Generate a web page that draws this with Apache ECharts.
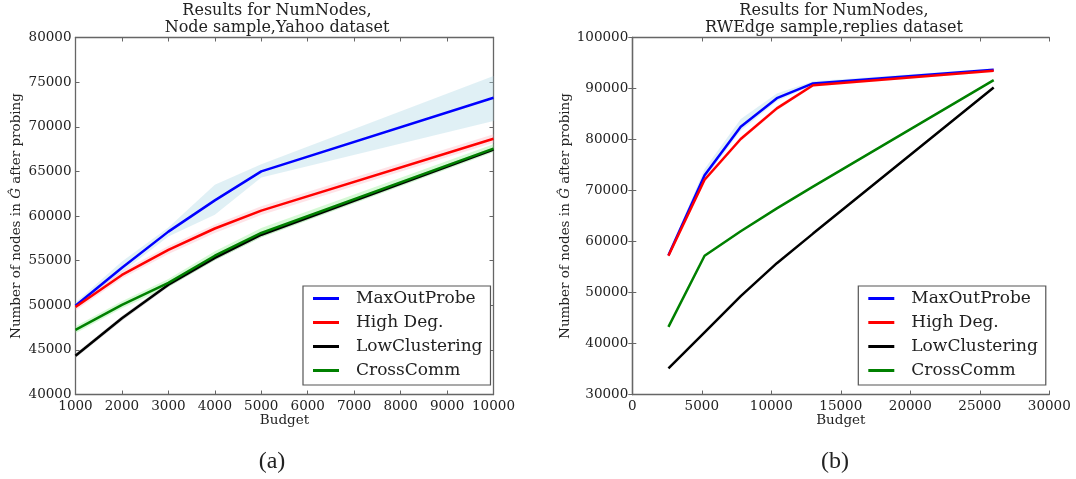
<!DOCTYPE html>
<html>
<head>
<meta charset="utf-8">
<script src="https://cdn.jsdelivr.net/npm/echarts@6/dist/echarts.min.js"></script>
<style>
html,body{margin:0;padding:0;background:#fff;}
#c{width:1076px;height:479px;}
</style>
</head>
<body>
<div id="c"></div>
<script>
// ---------- Data ----------
var seriesNames = ['MaxOutProbe', 'High Deg.', 'LowClustering', 'CrossComm'];
var seriesColors = ['#0000ff', '#ff0000', '#000000', '#008000'];
var bandColors = ['rgba(173,216,230,0.38)', 'rgba(255,182,193,0.38)', 'rgba(128,128,128,0.3)', 'rgba(144,238,144,0.38)'];

// (a) Node sample, Yahoo dataset
var budgetA = [1000, 2000, 3000, 4000, 5000, 10000];
var maxOutA = [49950, 54200, 58250, 61750, 65000, 73250];
var highDegA = [49800, 53400, 56200, 58600, 60600, 68650];
var lowClusA = [44350, 48550, 52300, 55300, 57900, 67450];
var crossA = [47250, 50050, 52500, 55550, 58100, 67550];
var maxOutA_lo = [49700, 53700, 57700, 60150, 64300, 70650];
var maxOutA_hi = [50300, 54900, 58700, 63500, 65800, 75700];
var highDegA_lo = [49400, 53000, 55750, 58100, 60100, 68200];
var highDegA_hi = [50200, 53850, 56650, 59050, 61100, 69150];
var lowClusA_lo = [44100, 48250, 52050, 55050, 57650, 67250];
var lowClusA_hi = [44600, 48800, 52550, 55550, 58150, 67700];
var crossA_lo = [46850, 49650, 52050, 55050, 57600, 67150];
var crossA_hi = [47650, 50450, 52950, 56050, 58650, 68050];

// (b) RWEdge sample, replies dataset
var budgetB = [2600, 5200, 7800, 10400, 13000, 26000];
var maxOutB = [57300, 73000, 82500, 88100, 91000, 93700];
var highDegB = [57200, 72100, 80100, 86100, 90650, 93500];
var lowClusB = [35100, 42200, 49300, 55750, 61550, 90200];
var crossB = [43250, 57200, 62000, 66500, 70750, 91650];
var maxOutB_lo = [56900, 72300, 81700, 87500, 90700, 93450];
var maxOutB_hi = [57700, 74200, 84000, 89000, 91400, 93950];
var highDegB_lo = [56900, 71700, 79700, 85700, 90350, 93250];
var highDegB_hi = [57500, 72500, 80500, 86500, 90950, 93750];

// Tick configuration
var xTicksA = {min: 1000, max: 10000, interval: 1000};
var yTicksA = {min: 40000, max: 80000, interval: 5000};
var xTicksB = {min: 0, max: 30000, interval: 5000};
var yTicksB = {min: 30000, max: 100000, interval: 10000};

var titleA = 'Results for NumNodes,\nNode sample,Yahoo dataset';
var titleB = 'Results for NumNodes,\nRWEdge sample,replies dataset';
var xName = 'Budget';
var yName = 'Number of nodes in {i|Ĝ} after probing';

// ---------- Build ----------
function pairs(xs, ys) { return xs.map(function (x, i) { return [x, ys[i]]; }); }

var SERIF = 'DejaVu Serif';
var frame = '#666';

function mkAxes(gridIndex, xt, yt, yGap) {
  var lblStyle = {fontFamily: SERIF, fontSize: 13.5, color: '#222'};
  var xa = [{
    type: 'value', gridIndex: gridIndex, position: 'bottom', min: xt.min, max: xt.max, interval: xt.interval,
    axisLine: {show: true, lineStyle: {color: frame, width: 1.3}},
    axisTick: {show: true, inside: true, length: 4, lineStyle: {color: frame}},
    axisLabel: Object.assign({margin: 5, formatter: function (v) { return String(v); }}, lblStyle),
    splitLine: {show: false},
    name: xName, nameLocation: 'middle', nameGap: 19, nameMoveOverlap: false,
    nameTextStyle: {fontFamily: SERIF, fontSize: 13.5, color: '#222'}
  }, {
    type: 'value', gridIndex: gridIndex, position: 'top', min: xt.min, max: xt.max, interval: xt.interval,
    axisLine: {show: true, lineStyle: {color: frame, width: 1.3}},
    axisTick: {show: true, inside: true, length: 4, lineStyle: {color: frame}},
    axisLabel: {show: false}, splitLine: {show: false}
  }];
  var ya = [{
    type: 'value', gridIndex: gridIndex, position: 'left', min: yt.min, max: yt.max, interval: yt.interval,
    axisLine: {show: true, lineStyle: {color: frame, width: 1.3}},
    axisTick: {show: true, inside: true, length: 4, lineStyle: {color: frame}},
    axisLabel: Object.assign({margin: 4, formatter: function (v) { return String(v); }}, lblStyle),
    splitLine: {show: false},
    name: yName, nameLocation: 'middle', nameGap: yGap, nameRotate: 90,
    nameTextStyle: {fontFamily: SERIF, fontSize: 13.5, color: '#222',
      rich: {i: {fontFamily: SERIF, fontStyle: 'italic', fontSize: 13.5, color: '#222'}}}
  }, {
    type: 'value', gridIndex: gridIndex, position: 'right', min: yt.min, max: yt.max, interval: yt.interval,
    axisLine: {show: true, lineStyle: {color: frame, width: 1.3}},
    axisTick: {show: true, inside: true, length: 4, lineStyle: {color: frame}},
    axisLabel: {show: false}, splitLine: {show: false}
  }];
  return {x: xa, y: ya};
}

var axA = mkAxes(0, xTicksA, yTicksA, 52);
var axB = mkAxes(1, xTicksB, yTicksB, 57);
var xAxes = axA.x.concat(axB.x); // indices 0,1 (A) 2,3 (B)
var yAxes = axA.y.concat(axB.y);

var series = [];
function addBand(xi, yi, xs, lo, hi, color) {
  var rows = xs.map(function (x, i) { return [x, lo[i], hi[i]]; });
  series.push({
    type: 'custom', xAxisIndex: xi, yAxisIndex: yi, silent: true, z: 1,
    data: rows,
    encode: {x: 0, y: [1, 2]},
    renderItem: function (params, api) {
      if (params.dataIndex !== 0) return null;
      var top = [], bot = [];
      for (var i = 0; i < rows.length; i++) {
        top.push(api.coord([rows[i][0], rows[i][2]]));
        bot.unshift(api.coord([rows[i][0], rows[i][1]]));
      }
      return {
        type: 'polygon',
        shape: {points: top.concat(bot)},
        style: {fill: color, stroke: null}
      };
    }
  });
}
function addLine(xi, yi, xs, ys, idx, z) {
  series.push({
    type: 'line', name: seriesNames[idx], xAxisIndex: xi, yAxisIndex: yi,
    data: pairs(xs, ys), showSymbol: false, symbol: 'none',
    color: seriesColors[idx], lineStyle: {color: seriesColors[idx], width: 2.5}, z: z
  });
}

// panel A
addBand(0, 0, budgetA, maxOutA_lo, maxOutA_hi, bandColors[0]);
addBand(0, 0, budgetA, highDegA_lo, highDegA_hi, bandColors[1]);
addBand(0, 0, budgetA, lowClusA_lo, lowClusA_hi, bandColors[2]);
addBand(0, 0, budgetA, crossA_lo, crossA_hi, bandColors[3]);
addLine(0, 0, budgetA, maxOutA, 0, 5);
addLine(0, 0, budgetA, highDegA, 1, 5);
addLine(0, 0, budgetA, lowClusA, 2, 5);
addLine(0, 0, budgetA, crossA, 3, 6);

// panel B
addBand(2, 2, budgetB, maxOutB_lo, maxOutB_hi, bandColors[0]);
addBand(2, 2, budgetB, highDegB_lo, highDegB_hi, bandColors[1]);
addLine(2, 2, budgetB, maxOutB, 0, 5);
addLine(2, 2, budgetB, highDegB, 1, 6);
addLine(2, 2, budgetB, lowClusB, 2, 5);
addLine(2, 2, budgetB, crossB, 3, 5);

function mkLegend(left) {
  return {
    left: left, top: 286, orient: 'vertical', data: seriesNames,
    icon: 'rect', itemWidth: 26, itemHeight: 3, itemGap: 7,
    padding: [4, 8, 6, 10],
    borderColor: '#555', borderWidth: 1.2, backgroundColor: '#fff',
    selectedMode: false,
    textStyle: {fontFamily: SERIF, fontSize: 17, color: '#222', lineHeight: 17, padding: [0, 0, 0, 12]}
  };
}

var option = {
  backgroundColor: '#fff',
  animation: false,
  grid: [
    {left: 75.5, top: 37.5, width: 418, height: 357, show: false},
    {left: 632.3, top: 37.5, width: 417, height: 357, show: false}
  ],
  title: [
    {text: titleA, left: 277, top: 2.5, textAlign: 'center', padding: 0,
      textStyle: {fontFamily: SERIF, fontSize: 16, fontWeight: 'normal', color: '#222', lineHeight: 17}},
    {text: titleB, left: 834, top: 2.5, textAlign: 'center', padding: 0,
      textStyle: {fontFamily: SERIF, fontSize: 16, fontWeight: 'normal', color: '#222', lineHeight: 17}},
    {text: '(a)', left: 272, top: 450, textAlign: 'center', padding: 0,
      textStyle: {fontFamily: 'Liberation Serif', fontSize: 24, fontWeight: 'normal', color: '#222'}},
    {text: '(b)', left: 835, top: 450, textAlign: 'center', padding: 0,
      textStyle: {fontFamily: 'Liberation Serif', fontSize: 24, fontWeight: 'normal', color: '#222'}}
  ],
  legend: [mkLegend(303), mkLegend(858.3)],
  xAxis: xAxes,
  yAxis: yAxes,
  series: series
};

var chart = echarts.init(document.getElementById('c'), null, {renderer: 'canvas'});
chart.setOption(option);
</script>
</body>
</html>
